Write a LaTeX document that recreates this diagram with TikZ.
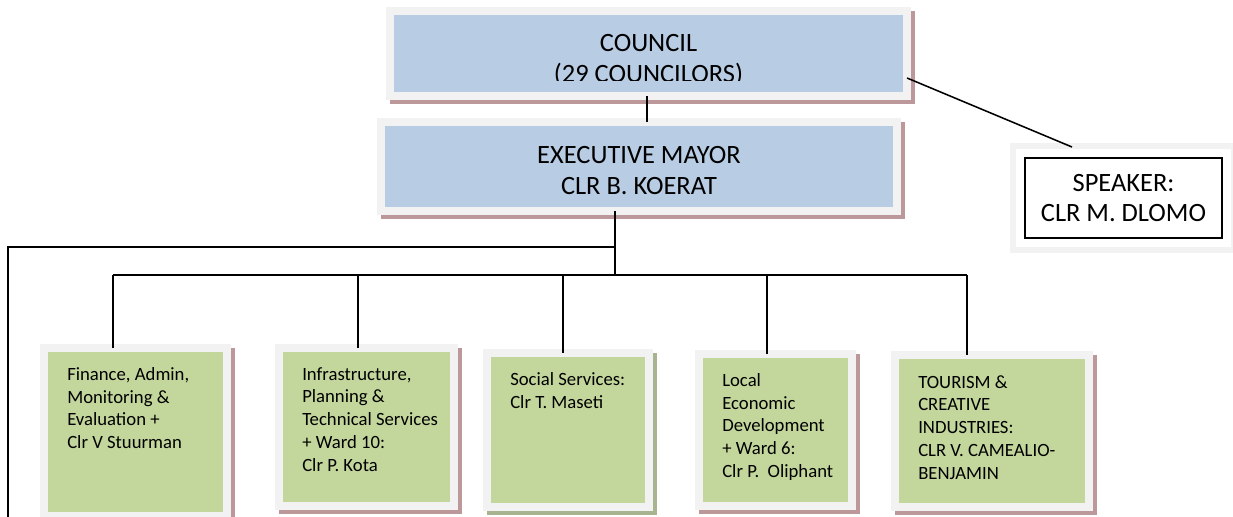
\documentclass[tikz,border=0pt]{standalone}
\usepackage{fontspec}
\setmainfont{Carlito}
\usetikzlibrary{positioning}

\definecolor{framegray}{HTML}{F2F2F2}
\definecolor{bluefill}{HTML}{B8CCE4}
\definecolor{greenfill}{HTML}{C3D69B}
\definecolor{shadowrose}{HTML}{BC989B}
\definecolor{shadowolive}{HTML}{A8B38F}

\begin{document}
\begin{tikzpicture}[
    x=0.025cm, y=-0.025cm,
    panel/.style={draw=framegray, line width=0.2cm, inner sep=0pt, outer sep=0pt,
      preaction={draw=#1, fill=#1, line width=0.2cm,
        transform canvas={shift={(0.1cm,-0.1cm)}}}},
    panel/.default=shadowrose,
    head/.style={panel, fill=bluefill},
    tile/.style={panel=#1, fill=greenfill},
    tile/.default=shadowrose,
    bigtext/.style={align=center, font=\fontsize{18.8}{22}\selectfont},
    tiletext/.style={align=left, inner sep=0pt, anchor=north west, font=\fontsize{13.3}{16.2}\selectfont},
    conn/.style={line width=1.1pt},
]
  \fill[white] (0,0) rectangle (1233,516);
  \useasboundingbox (0,0) rectangle (1233,516);

  % Council and mayor (top)
  \node[head, minimum width=12.925cm, minimum height=2.125cm] (council) at (648.5,53.5) {};
  \begin{scope}
    \clip (394,15) rectangle (903,80);
    \node[bigtext] (council-txt) at (648.5,60) {COUNCIL\\(29 COUNCILORS)};
  \end{scope}
  \node[head, minimum width=12.9cm, minimum height=2.225cm] (mayor) at (639,166.5) {};
  \node[bigtext] (mayor-txt) at (639,170.5) {EXECUTIVE MAYOR\\CLR B. KOERAT};

  % Speaker (right)
  \node[bigtext, draw, line width=1.4pt, fill=white, minimum width=4.925cm, minimum height=2cm,
        preaction={draw=framegray, line width=0.75cm},
        preaction={draw=white, line width=0.425cm}] (speaker) at (1123.5,198) {SPEAKER:\\CLR M. DLOMO};

  % Portfolio tiles (bottom)
  \node[tile, minimum width=4.575cm, minimum height=4.2cm] (fin) at (135.5,432) {};
  \node[tile, minimum width=4.375cm, minimum height=3.95cm] (infra) at (366.5,427) {};
  \node[tile=shadowolive, minimum width=4.05cm, minimum height=3.85cm] (social) at (568,430) {};
  \node[tile, minimum width=3.825cm, minimum height=3.8cm] (led) at (775.5,430) {};
  \node[tile, minimum width=4.85cm, minimum height=3.8cm] (tour) at (992,431) {};

  \node[tiletext] (fin-txt) at ([xshift=0.575cm,yshift=-0.475cm]fin.north west)
    {Finance, Admin,\\Monitoring \&\\Evaluation +\\Clr V Stuurman};
  \node[tiletext] (infra-txt) at ([xshift=0.575cm,yshift=-0.475cm]infra.north west)
    {Infrastructure,\\Planning \&\\Technical Services\\+ Ward 10:\\Clr P. Kota};
  \node[tiletext] (social-txt) at ([xshift=0.575cm,yshift=-0.475cm]social.north west)
    {Social Services:\\Clr T. Maseti};
  \node[tiletext] (led-txt) at ([xshift=0.575cm,yshift=-0.475cm]led.north west)
    {Local\\Economic\\Development\\+ Ward 6:\\Clr P.\ \ Oliphant};
  \node[tiletext] (tour-txt) at ([xshift=0.575cm,yshift=-0.5cm]tour.north west)
    {TOURISM \&\\CREATIVE\\INDUSTRIES:\\CLR V. CAMEALIO-\\BENJAMIN};

  % Connectors
  \coordinate (trunk) at (615,275);
  \coordinate (side) at (8,247);
  \coordinate (side-end) at (8,520);
  \coordinate (bus-l) at (113,275);
  \coordinate (bus-r) at (967,275);

  \draw[conn] (council.south -| 647,0) -- (mayor.north -| 647,0);
  \draw[conn] ([yshift=-0.6125cm]council.east) -- ([xshift=-1.2875cm,yshift=0.25cm]speaker.north);
  \draw[conn] (mayor.south -| trunk) -- (trunk);
  \draw[conn] (side-end) -- (side) -- (side -| trunk);
  \draw[conn] (bus-l) -- (bus-r);
  \foreach \tname/\bx in {fin/113, infra/358, social/563, led/767, tour/967}
    \draw[conn] (\bx,275) -- (\tname.north -| \bx,0);
\end{tikzpicture}
\end{document}
